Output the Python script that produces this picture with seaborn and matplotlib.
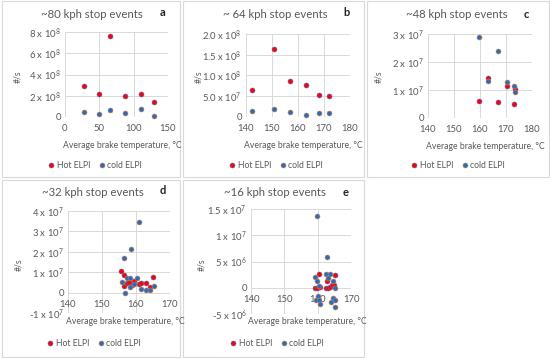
import matplotlib
matplotlib.use("Agg")
import matplotlib.pyplot as plt
import seaborn as sns
import pandas as pd
from matplotlib.patches import Rectangle
from matplotlib.lines import Line2D

sns.set_theme(style="white")
plt.rcParams['font.family'] = ['Lato', 'DejaVu Sans']

# ---------------- data ----------------
# Panel a: ~80 kph
a_hot_x = [27.6, 49, 65, 88, 111, 129]
a_hot_y = [2.95e8, 2.16e8, 7.6e8, 1.95e8, 2.16e8, 1.38e8]
a_cold_x = [27.6, 49, 65, 88, 111, 129]
a_cold_y = [0.44e8, 0.25e8, 0.69e8, 0.38e8, 0.75e8, 0.09e8]

# Panel b: ~64 kph
b_hot_x = [142.2, 150.7, 157.0, 163.2, 168.1, 171.9]
b_hot_y = [0.645e8, 1.64e8, 0.87e8, 0.77e8, 0.52e8, 0.50e8]
b_cold_x = [142.2, 150.7, 157.0, 163.2, 168.1, 171.9]
b_cold_y = [0.145e8, 0.20e8, 0.13e8, 0.04e8, 0.10e8, 0.09e8]

# Panel c: ~48 kph
c_hot_x = [159.6, 163.2, 166.9, 170.3, 172.9, 173.6]
c_hot_y = [0.62e7, 1.42e7, 0.57e7, 1.13e7, 0.49e7, 1.04e7]
c_cold_x = [159.6, 163.2, 166.9, 170.3, 173.0, 173.6]
c_cold_y = [2.9e7, 1.33e7, 2.4e7, 1.29e7, 1.13e7, 0.94e7]

# Panel d: ~32 kph
d_hot_x = [155.7, 156.5, 156.5, 157.5, 158.0, 158.8, 159.5, 161.0, 161.5, 162.8, 164.1, 165.1]
d_hot_y = [1.07e7, 0.86e7, 0.34e7, 0.47e7, 0.52e7, 0.37e7, 0.59e7, 0.44e7, 0.49e7, 0.46e7, 0.26e7, 0.78e7]
d_cold_x = [160.9, 158.5, 156.4, 155.8, 156.8, 157.4, 158.2, 158.2, 159.3, 160.2, 161.6, 162.8, 164.1, 165.2]
d_cold_y = [3.46e7, 2.14e7, 1.69e7, 0.54e7, -0.02e7, 0.70e7, 0.70e7, 0.28e7, 0.44e7, 0.72e7, 0.16e7, 0.11e7, 0.11e7, 0.33e7]

# Panel e: ~16 kph
e_hot_x = [159.3, 159.9, 160.5, 160.6, 162.6, 162.8, 163.1, 163.6, 164.2, 164.8, 165.2]
e_hot_y = [0.0, 0.0, 0.27e7, 0.02e7, 0.0, 0.13e7, 0.0, 0.02e7, 0.05e7, 0.06e7, 0.24e7]
e_cold_x = [159.9, 162.8, 159.2, 159.8, 162.5, 163.6, 163.2, 160.4, 164.5, 165.3,
            160.0, 159.5, 160.4, 160.7, 164.7, 164.1, 165.3, 165.1]
e_cold_y = [1.37e7, 0.58e7, 0.20e7, 0.13e7, 0.27e7, 0.27e7, 0.18e7, 0.04e7, 0.12e7, -0.01e7,
            -0.15e7, -0.23e7, -0.23e7, -0.30e7, -0.20e7, -0.27e7, -0.23e7, -0.37e7]

titles = ["~80 kph stop events", "~ 64 kph stop events", "~48 kph stop events",
          "~32 kph stop events", "~16 kph stop events"]
letters = ["a", "b", "c", "d", "e"]
series_names = ["Hot ELPI", "cold ELPI"]

a_xticks = [0, 50, 100, 150]
a_yticks = [0, 2e8, 4e8, 6e8, 8e8]
a_ylabels = ["0", r"2 x 10$^{8}$", r"4 x 10$^{8}$", r"6 x 10$^{8}$", r"8 x 10$^{8}$"]
b_xticks = [140, 150, 160, 170, 180]
b_yticks = [0, 0.5e8, 1.0e8, 1.5e8, 2.0e8]
b_ylabels = ["0", r"5.0 x 10$^{7}$", r"1.0 x 10$^{8}$", r"1.5 x 10$^{8}$", r"2.0 x 10$^{8}$"]
c_xticks = [140, 150, 160, 170, 180]
c_yticks = [0, 1e7, 2e7, 3e7]
c_ylabels = ["0", r"1 x 10$^{7}$", r"2 x 10$^{7}$", r"3 x 10$^{7}$"]
d_xticks = [140, 150, 160, 170]
d_yticks = [-1e7, 0, 1e7, 2e7, 3e7, 4e7]
d_ylabels = [r"-1 x 10$^{7}$", "0", r"1 x 10$^{7}$", r"2 x 10$^{7}$", r"3 x 10$^{7}$", r"4 x 10$^{7}$"]
e_xticks = [140, 150, 160, 170]
e_yticks = [-5e6, 0, 5e6, 1e7, 1.5e7]
e_ylabels = [r"-5 x 10$^{6}$", "0", r"5 x 10$^{6}$", r"1 x 10$^{7}$", r"1.5 x 10$^{7}$"]

# ---------------- layout (pixels) ----------------
W, H = 550, 359
TXT = "#595959"
HOT_FACE, HOT_EDGE = "#ff0000", "#4472c4"
COLD_FACE, COLD_EDGE = "#1f6fc5", "#ed7d31"
plt.rcParams['mathtext.fontset'] = 'custom'
plt.rcParams['mathtext.rm'] = 'Lato'
plt.rcParams['mathtext.it'] = 'Lato:italic'

fig = plt.figure(figsize=(5.5, 3.59), dpi=100)

def fx(x):
    return x / W

def fy(y):
    return 1 - y / H

panels = [
    dict(hx=a_hot_x, hy=a_hot_y, cx=a_cold_x, cy=a_cold_y, xt=a_xticks, yt=a_yticks, yl=a_ylabels,
         ax=(65, 32, 168, 117), box=(2, 1, 180, 177), title=(92, 15), letter=(163, 13),
         xlab=(122, 145), ylab=(18, 77), leg=(95, 165.5), xcross=False),
    dict(hx=b_hot_x, hy=b_hot_y, cx=b_cold_x, cy=b_cold_y, xt=b_xticks, yt=b_yticks, yl=b_ylabels,
         ax=(246, 34, 350, 117), box=(183, 1, 364, 177), title=(275, 15), letter=(346, 13),
         xlab=(303, 145), ylab=(199, 77), leg=(276, 165.5), xcross=False),
    dict(hx=c_hot_x, hy=c_hot_y, cx=c_cold_x, cy=c_cold_y, xt=c_xticks, yt=c_yticks, yl=c_ylabels,
         ax=(428, 34, 532, 118), box=(367, 1, 549, 177), title=(457, 15), letter=(526, 15),
         xlab=(485, 146), ylab=(379, 77), leg=(458, 165.5), xcross=False),
    dict(hx=d_hot_x, hy=d_hot_y, cx=d_cold_x, cy=d_cold_y, xt=d_xticks, yt=d_yticks, yl=d_ylabels,
         ax=(68, 211, 170, 313), box=(2, 180, 180, 357), title=(93, 193), letter=(163, 190),
         xlab=(125, 321), ylab=(19, 265), leg=(94, 344), xcross=True),
    dict(hx=e_hot_x, hy=e_hot_y, cx=e_cold_x, cy=e_cold_y, xt=e_xticks, yt=e_yticks, yl=e_ylabels,
         ax=(251, 209, 351, 314), box=(183, 180, 364, 357), title=(275, 193), letter=(346, 192),
         xlab=(307, 321), ylab=(202, 265), leg=(277, 344), xcross=True),
]

for i, p in enumerate(panels):
    bx0, by0, bx1, by1 = p["box"]
    fig.patches.append(Rectangle((fx(bx0), fy(by1)), fx(bx1 - bx0), (by1 - by0) / H,
                                 transform=fig.transFigure, facecolor="none",
                                 edgecolor="#d9d9d9", linewidth=0.8, zorder=-1))
    x0, y0, x1, y1 = p["ax"]
    ax = fig.add_axes([fx(x0), fy(y1), fx(x1 - x0), (y1 - y0) / H])
    ax.set_facecolor("none")

    df = pd.concat([
        pd.DataFrame({"T": p["hx"], "v": p["hy"], "s": series_names[0]}),
        pd.DataFrame({"T": p["cx"], "v": p["cy"], "s": series_names[1]}),
    ], ignore_index=True)
    sns.scatterplot(data=df[df.s == series_names[0]], x="T", y="v", ax=ax, s=13,
                    color=HOT_FACE, edgecolor=HOT_EDGE, linewidth=0.4, zorder=3, legend=False,
                    clip_on=False)
    sns.scatterplot(data=df[df.s == series_names[1]], x="T", y="v", ax=ax, s=13,
                    color=COLD_FACE, edgecolor=COLD_EDGE, linewidth=0.4, zorder=4, legend=False,
                    clip_on=False)

    ax.set_xlim(p["xt"][0], p["xt"][-1])
    ax.set_ylim(p["yt"][0], p["yt"][-1])
    ax.set_xticks(p["xt"])
    ax.set_yticks(p["yt"])
    ax.set_yticklabels(p["yl"])
    ax.grid(True, color="#d9d9d9", linewidth=0.7)
    ax.set_axisbelow(True)
    for sp in ax.spines.values():
        sp.set_visible(False)
    if p["xcross"]:
        ax.spines["bottom"].set_position(("data", 0))
    ax.tick_params(axis="both", length=0, labelsize=6.8, labelcolor=TXT, pad=3)
    ax.tick_params(axis="x", pad=5)
    ax.set_xlabel("")
    ax.set_ylabel("")

    fig.text(fx(p["title"][0]), fy(p["title"][1]), titles[i], ha="center", va="center",
             fontsize=8.2, color=TXT)
    fig.text(fx(p["letter"][0]), fy(p["letter"][1]), letters[i], ha="center", va="center",
             fontsize=8, color="#222222", fontweight="bold")
    fig.text(fx(p["xlab"][0]), fy(p["xlab"][1]), "Average brake temperature, °C",
             ha="center", va="center", fontsize=6.2, color=TXT)
    fig.text(fx(p["ylab"][0]), fy(p["ylab"][1]), "#/s", ha="center", va="center",
             rotation=90, fontsize=6.2, color=TXT)

    handles = [
        Line2D([], [], marker="o", linestyle="none", markersize=3.6,
               markerfacecolor=HOT_FACE, markeredgecolor=HOT_EDGE, markeredgewidth=0.4),
        Line2D([], [], marker="o", linestyle="none", markersize=3.6,
               markerfacecolor=COLD_FACE, markeredgecolor=COLD_EDGE, markeredgewidth=0.4),
    ]
    leg = fig.legend(handles, series_names, loc="center",
                     bbox_to_anchor=(fx(p["leg"][0]), fy(p["leg"][1])),
                     ncol=2, frameon=False, fontsize=6.2, handletextpad=0.2,
                     columnspacing=1.0, handlelength=0.8, borderpad=0)
    for t in leg.get_texts():
        t.set_color(TXT)

fig.savefig("out.png", dpi=100)
